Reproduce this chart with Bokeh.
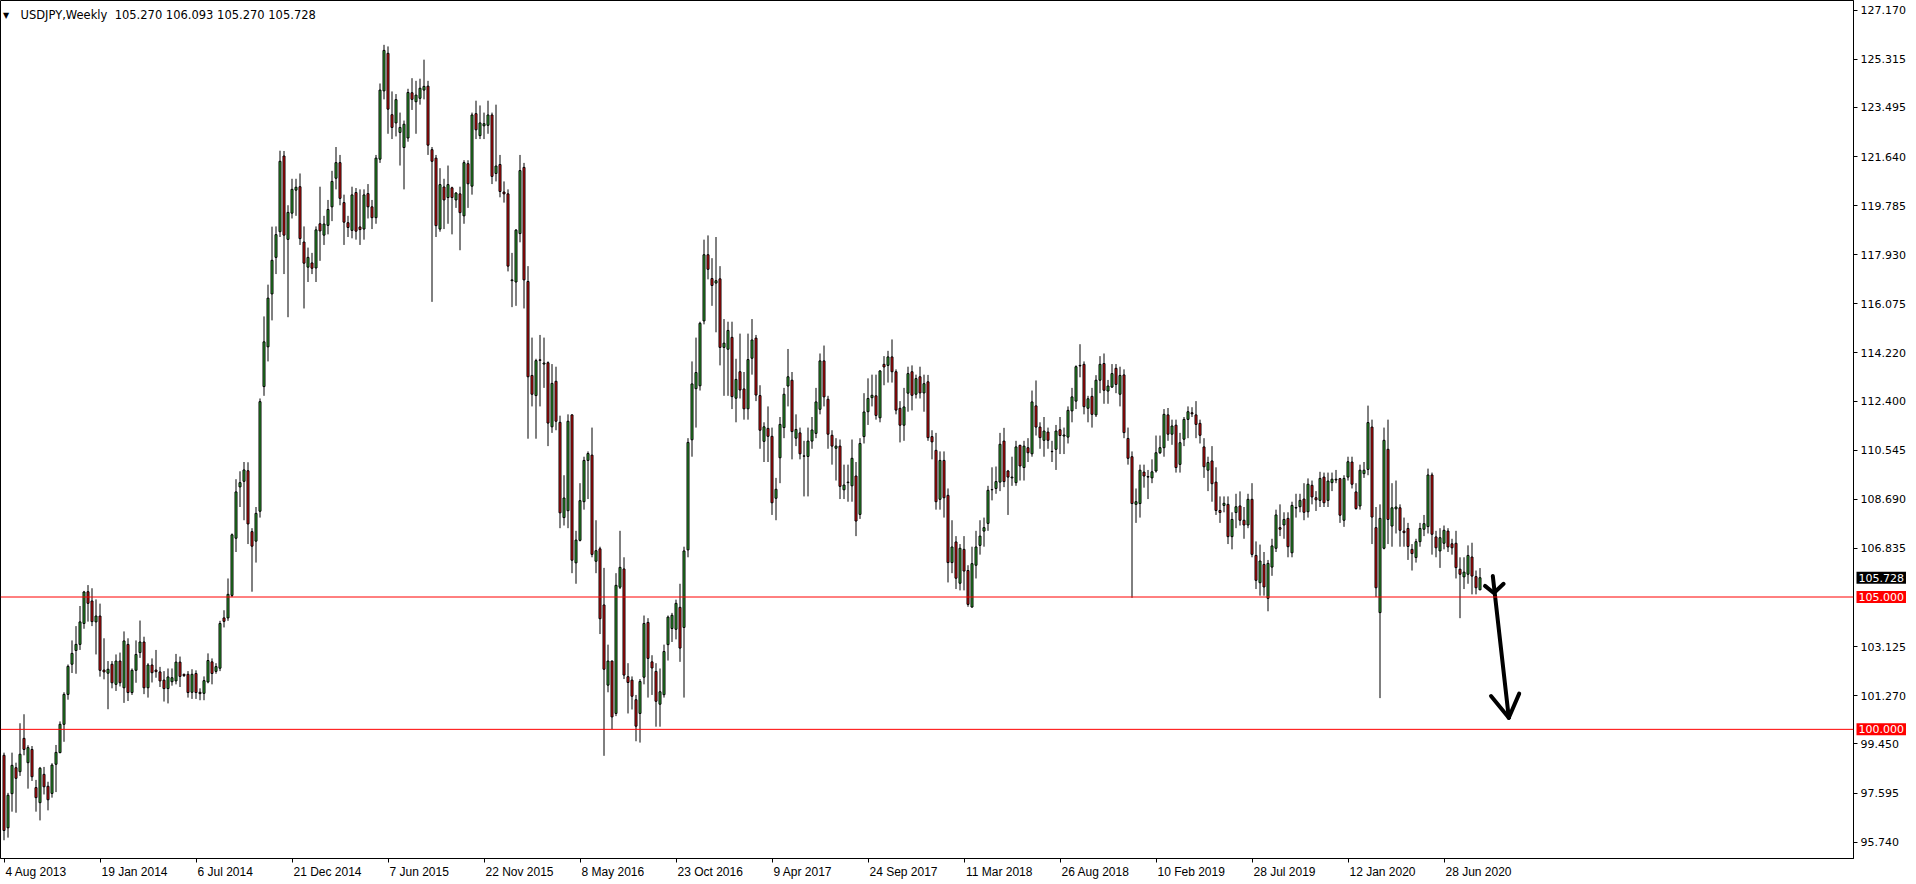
from bokeh.plotting import figure
from bokeh.models import (ColumnDataSource, FixedTicker, Span, Label, Range1d,
                          PrintfTickFormatter)
from bokeh.embed import file_html
from bokeh.resources import INLINE

# ---------------- data (USDJPY weekly) ----------------
symbol = "USDJPY,Weekly"
date_labels = ["4 Aug 2013", "19 Jan 2014", "6 Jul 2014", "21 Dec 2014", "7 Jun 2015",
               "22 Nov 2015", "8 May 2016", "23 Oct 2016", "9 Apr 2017", "24 Sep 2017",
               "11 Mar 2018", "26 Aug 2018", "10 Feb 2019", "28 Jul 2019", "12 Jan 2020",
               "28 Jun 2020"]
label_every = 24  # bars between date labels
price_ticks = [127.170, 125.315, 123.495, 121.640, 119.785, 117.930, 116.075, 114.220,
               112.400, 110.545, 108.690, 106.835, 103.125, 101.270, 99.450, 97.595, 95.740]
levels = [105.0, 100.0]

opens = [
    99.02, 96.28, 97.57, 98.55, 98.40, 99.66, 98.74, 99.24, 97.80, 97.23,
    98.30, 97.85, 97.58, 98.68, 99.12, 100.19, 101.32, 102.46, 102.98, 103.21,
    104.00, 105.20, 104.85, 104.06, 104.28, 102.24, 102.12, 102.46, 101.70, 102.58,
    101.57, 103.21, 101.39, 102.23, 102.90, 103.30, 101.57, 102.43, 102.24, 102.17,
    101.86, 101.54, 101.80, 101.83, 102.54, 102.08, 102.08, 101.40, 102.11, 101.40,
    101.36, 101.79, 102.55, 102.19, 102.31, 104.21, 104.21, 105.06, 107.22, 109.16,
    109.37, 109.77, 107.47, 107.11, 108.24, 112.95, 114.45, 116.45, 117.83, 118.80,
    121.66, 118.51, 119.50, 120.37, 120.50, 118.41, 117.46, 117.62, 117.43, 119.10,
    118.67, 119.04, 119.74, 120.82, 121.41, 119.90, 119.14, 118.85, 120.28, 118.98,
    118.90, 120.24, 119.74, 119.33, 121.54, 124.12, 125.54, 123.22, 122.91, 122.55,
    121.98, 122.34, 124.05, 123.71, 123.84, 124.15, 124.30, 121.90, 121.58, 118.90,
    120.49, 120.09, 120.46, 120.00, 120.23, 119.40, 121.37, 120.52, 123.26, 122.43,
    122.80, 122.82, 123.21, 121.00, 121.34, 120.30, 120.23, 116.95, 116.90, 118.73,
    121.23, 116.92, 113.37, 112.61, 113.96, 113.80, 113.85, 111.43, 113.15, 111.60,
    108.00, 108.26, 111.88, 106.29, 107.14, 108.60, 110.16, 110.36, 106.35, 106.82,
    104.70, 101.67, 102.58, 100.60, 105.37, 106.06, 101.99, 101.86, 101.12, 100.60,
    101.97, 104.04, 102.55, 102.19, 100.95, 101.31, 103.20, 103.81, 103.78, 104.61,
    103.85, 106.78, 110.94, 112.87, 112.98, 115.43, 117.93, 117.03, 116.86, 117.02,
    114.43, 114.36, 114.81, 112.51, 113.51, 112.86, 112.11, 114.02, 114.78, 112.61,
    110.88, 111.37, 111.07, 108.73, 110.26, 111.40, 112.97, 113.19, 111.00, 111.20,
    110.33, 110.31, 110.89, 111.18, 112.09, 113.92, 112.47, 111.11, 110.62, 110.70,
    109.05, 109.32, 109.20, 109.57, 108.12, 111.06, 112.00, 112.53, 112.60, 111.77,
    113.79, 113.75, 114.07, 113.51, 112.13, 111.49, 112.70, 113.51, 112.66, 113.32,
    112.71, 113.13, 111.06, 110.54, 108.69, 110.16, 108.84, 106.30, 107.08, 105.52,
    106.80, 106.00, 104.62, 106.20, 106.95, 107.49, 107.78, 109.05, 109.10, 109.34,
    110.89, 109.76, 109.50, 109.32, 110.73, 109.89, 110.64, 110.41, 112.22, 111.42,
    110.92, 111.23, 110.50, 110.58, 111.32, 111.08, 111.04, 112.03, 112.40, 113.75,
    113.79, 112.13, 112.58, 111.88, 113.19, 113.82, 112.78, 112.93, 113.64, 112.66,
    113.39, 110.99, 110.30, 108.50, 108.53, 109.72, 109.55, 109.50, 109.76, 110.45,
    110.64, 111.88, 111.15, 111.49, 110.01, 110.96, 111.71, 111.96, 111.88, 111.56,
    110.67, 109.79, 110.14, 109.34, 108.27, 108.46, 108.50, 107.28, 108.19, 108.44,
    107.90, 107.72, 108.69, 106.57, 105.54, 106.23, 104.95, 106.13, 106.84, 107.62,
    107.72, 107.97, 106.67, 108.36, 108.41, 108.70, 108.22, 109.22, 108.75, 108.65,
    109.53, 108.65, 109.32, 109.42, 109.47, 107.90, 109.53, 110.10, 108.97, 108.44,
    109.66, 109.82, 111.42, 107.62, 104.41, 106.84, 110.58, 107.68, 108.33, 108.37,
    107.49, 107.59, 106.80, 106.49, 107.09, 107.56, 107.66, 109.61, 107.27, 106.74,
    107.03, 107.49, 107.01, 107.03, 106.05, 105.76, 105.86, 106.51, 105.77, 105.27,
]
highs = [
    99.12, 97.60, 99.12, 98.74, 100.23, 100.57, 99.40, 99.37, 98.09, 98.58,
    98.58, 98.02, 98.72, 99.41, 100.30, 101.40, 102.45, 103.36, 103.90, 104.66,
    105.23, 105.45, 105.33, 104.91, 104.75, 103.44, 102.58, 102.58, 102.83, 102.90,
    103.70, 103.44, 102.30, 103.36, 104.11, 103.50, 102.50, 102.68, 103.00, 102.36,
    102.20, 102.30, 102.30, 102.85, 102.75, 102.10, 102.20, 102.27, 102.23, 101.55,
    102.00, 102.87, 102.68, 102.50, 104.10, 104.50, 105.70, 107.40, 109.45, 109.75,
    110.10, 110.09, 107.60, 108.40, 112.50, 115.60, 116.80, 118.99, 119.00, 121.86,
    121.85, 119.80, 120.80, 120.80, 121.00, 119.00, 118.20, 118.00, 119.00, 120.50,
    119.40, 120.00, 121.10, 122.00, 121.70, 120.20, 119.40, 120.50, 120.45, 120.40,
    120.40, 120.60, 120.00, 121.70, 124.40, 125.86, 125.80, 124.10, 124.00, 123.30,
    123.00, 124.20, 124.60, 124.50, 124.58, 125.30, 124.50, 122.00, 121.70, 121.20,
    120.80, 121.30, 120.50, 120.30, 120.50, 121.50, 121.50, 123.30, 123.75, 123.57,
    123.30, 123.75, 123.30, 123.60, 121.70, 120.70, 120.40, 118.00, 118.90, 121.70,
    121.40, 117.50, 114.80, 114.00, 114.90, 114.80, 113.90, 113.80, 113.70, 111.85,
    109.60, 111.90, 111.90, 107.50, 109.30, 110.30, 110.50, 111.40, 107.90, 106.90,
    106.10, 103.20, 102.60, 105.90, 107.50, 106.50, 102.50, 102.00, 101.30, 101.90,
    104.30, 104.20, 102.80, 102.50, 102.30, 103.20, 104.30, 104.40, 104.90, 105.50,
    106.90, 111.00, 113.90, 114.80, 115.40, 118.50, 118.66, 117.80, 118.60, 117.50,
    115.50, 115.40, 115.40, 114.00, 114.95, 113.50, 114.95, 115.50, 114.90, 113.00,
    111.60, 112.20, 111.40, 109.50, 111.80, 112.90, 114.37, 113.50, 111.90, 111.40,
    110.90, 111.40, 111.80, 112.90, 114.20, 114.50, 112.60, 111.30, 111.00, 110.95,
    110.00, 110.00, 110.95, 110.10, 111.00, 112.70, 113.26, 113.40, 113.40, 113.57,
    114.10, 114.30, 114.73, 113.60, 112.40, 112.90, 113.70, 113.75, 113.40, 113.70,
    113.40, 113.39, 111.30, 111.20, 110.50, 110.50, 109.10, 107.90, 107.30, 107.00,
    107.30, 106.20, 106.90, 107.50, 107.90, 108.00, 109.20, 109.90, 109.93, 111.20,
    111.39, 109.80, 110.30, 110.90, 110.75, 110.90, 111.00, 112.80, 113.18, 111.60,
    111.80, 111.40, 110.90, 111.50, 111.80, 111.40, 112.20, 112.90, 113.75, 114.55,
    113.90, 112.60, 112.90, 113.38, 114.10, 114.20, 113.20, 113.80, 113.80, 113.70,
    113.60, 111.40, 110.50, 109.10, 110.00, 110.00, 109.80, 110.20, 111.10, 111.10,
    112.10, 112.14, 111.70, 111.70, 111.20, 111.80, 112.20, 112.17, 112.40, 111.70,
    111.00, 110.30, 110.70, 109.90, 108.80, 108.80, 108.80, 108.20, 108.90, 108.99,
    108.40, 108.90, 109.30, 107.10, 106.98, 106.70, 106.40, 107.20, 108.30, 108.50,
    108.20, 108.20, 108.60, 108.90, 108.90, 109.30, 109.48, 109.40, 109.00, 109.73,
    109.70, 109.70, 109.70, 109.80, 109.50, 109.60, 110.30, 110.30, 109.30, 110.00,
    110.10, 112.23, 111.70, 108.40, 108.50, 111.40, 111.70, 109.30, 109.40, 108.50,
    108.00, 107.80, 107.00, 107.20, 107.80, 108.10, 109.85, 109.70, 107.50, 107.60,
    107.70, 107.60, 107.20, 107.50, 106.50, 106.50, 106.95, 107.05, 106.00, 106.093,
]
lows = [
    95.81, 95.91, 96.89, 96.85, 98.24, 99.02, 97.76, 98.05, 96.89, 96.56,
    97.54, 96.94, 97.42, 97.63, 99.10, 99.53, 101.12, 102.13, 102.10, 103.00,
    103.80, 104.07, 103.90, 102.83, 101.99, 101.89, 100.76, 101.55, 101.45, 101.62,
    101.00, 101.07, 101.30, 101.76, 102.70, 101.33, 101.20, 101.77, 101.95, 101.60,
    101.05, 100.98, 101.65, 101.70, 101.60, 101.98, 101.20, 101.15, 101.15, 101.10,
    101.10, 101.74, 101.70, 102.10, 102.20, 103.85, 104.10, 105.00, 106.70, 108.40,
    107.90, 107.00, 105.20, 106.30, 108.00, 112.60, 113.90, 115.45, 117.20, 118.60,
    117.20, 115.57, 119.30, 119.40, 118.30, 115.90, 116.90, 117.20, 116.90, 117.70,
    118.30, 118.70, 119.20, 120.40, 119.80, 118.30, 118.60, 118.55, 118.50, 118.30,
    118.50, 119.30, 118.90, 119.10, 121.40, 123.80, 122.50, 122.30, 122.40, 121.30,
    120.40, 122.20, 123.40, 122.50, 123.60, 123.80, 121.70, 116.15, 118.60, 118.80,
    118.90, 119.10, 118.70, 119.70, 118.10, 119.10, 119.70, 120.20, 122.30, 122.30,
    122.30, 122.50, 120.60, 120.70, 120.10, 119.90, 117.30, 115.95, 116.00, 118.40,
    115.90, 110.98, 112.20, 110.98, 112.20, 112.90, 110.70, 111.20, 111.30, 107.60,
    107.70, 107.60, 105.90, 105.50, 107.10, 108.30, 108.70, 106.50, 105.90, 103.60,
    99.00, 101.40, 100.00, 100.50, 105.30, 101.90, 100.60, 100.75, 99.55, 99.50,
    101.70, 101.20, 101.30, 100.10, 100.10, 101.20, 102.60, 103.30, 103.40, 102.55,
    101.20, 106.50, 110.30, 111.40, 112.80, 115.30, 117.00, 116.00, 115.00, 113.75,
    112.60, 112.60, 112.10, 111.60, 112.50, 111.70, 111.70, 113.40, 112.40, 110.60,
    110.10, 110.10, 108.10, 107.90, 109.30, 111.00, 112.20, 110.20, 110.70, 110.20,
    108.80, 108.80, 110.60, 111.00, 111.90, 112.20, 110.60, 110.00, 109.40, 108.70,
    108.70, 108.60, 108.60, 107.30, 107.95, 110.80, 111.50, 112.20, 111.70, 111.60,
    113.00, 113.10, 113.10, 111.90, 110.84, 110.90, 112.00, 112.05, 112.50, 112.50,
    112.00, 110.90, 110.20, 108.30, 108.30, 108.00, 105.55, 105.90, 105.30, 105.25,
    105.25, 104.63, 104.60, 105.70, 106.60, 106.90, 107.50, 108.65, 108.90, 109.00,
    109.15, 108.10, 109.20, 109.20, 109.40, 109.40, 110.10, 110.30, 111.10, 110.60,
    110.30, 110.60, 110.10, 109.80, 110.40, 110.40, 110.80, 111.60, 112.10, 113.30,
    111.90, 111.60, 111.40, 111.80, 112.70, 112.30, 112.30, 112.90, 112.70, 112.20,
    111.00, 110.00, 104.97, 107.80, 108.00, 109.13, 108.70, 109.30, 109.70, 110.40,
    110.30, 110.90, 110.75, 109.70, 109.70, 110.70, 111.00, 111.80, 111.00, 110.80,
    109.50, 109.00, 108.60, 108.10, 107.80, 108.20, 107.00, 106.80, 107.60, 107.70,
    107.20, 107.60, 106.50, 105.30, 105.05, 105.05, 104.46, 105.80, 106.70, 107.30,
    107.20, 106.50, 106.50, 108.00, 108.20, 107.90, 108.00, 108.50, 108.25, 108.40,
    108.40, 108.40, 109.00, 109.30, 107.80, 107.65, 109.40, 109.10, 108.30, 108.30,
    109.50, 109.60, 107.00, 105.00, 101.18, 106.80, 107.00, 106.90, 107.40, 106.90,
    106.90, 106.40, 106.00, 106.30, 106.90, 107.30, 107.40, 106.60, 106.50, 106.10,
    106.80, 106.70, 106.60, 105.70, 104.20, 105.30, 105.50, 105.10, 105.10, 105.27,
]
closes = [
    96.18, 97.51, 98.64, 98.15, 99.06, 99.24, 99.31, 98.21, 97.42, 98.53,
    97.83, 97.34, 98.65, 99.13, 100.19, 101.32, 102.38, 102.87, 103.21, 104.06,
    105.19, 104.76, 104.07, 104.28, 102.23, 102.17, 102.27, 101.76, 102.58, 101.76,
    103.34, 101.39, 102.23, 102.83, 103.30, 101.57, 102.43, 102.14, 102.18, 101.83,
    101.54, 101.98, 101.95, 102.54, 102.00, 102.03, 101.39, 102.08, 101.39, 101.35,
    101.84, 102.60, 102.11, 102.37, 104.00, 104.08, 105.10, 107.35, 108.97, 109.32,
    109.80, 107.76, 106.92, 108.16, 112.38, 114.64, 116.29, 117.72, 118.69, 121.46,
    118.67, 119.53, 120.40, 120.48, 118.54, 117.61, 117.83, 117.42, 118.87, 118.83,
    119.09, 119.64, 120.70, 121.41, 120.06, 119.16, 118.96, 120.19, 118.82, 118.88,
    120.19, 119.74, 119.33, 121.58, 124.15, 125.65, 123.43, 122.74, 123.79, 122.74,
    122.86, 124.06, 123.80, 123.96, 124.22, 124.29, 122.07, 121.46, 119.03, 120.58,
    120.00, 120.58, 120.09, 120.26, 119.52, 121.41, 120.61, 123.21, 122.65, 122.91,
    122.88, 123.21, 120.89, 121.28, 120.32, 120.23, 117.50, 116.98, 118.86, 121.11,
    116.98, 113.32, 112.66, 113.93, 113.94, 113.84, 111.57, 113.07, 111.64, 108.18,
    108.74, 111.64, 106.39, 107.15, 108.64, 110.16, 110.42, 106.61, 106.75, 104.18,
    102.27, 102.58, 100.47, 105.44, 106.12, 102.05, 101.77, 101.25, 100.12, 101.81,
    104.00, 102.68, 102.32, 101.06, 101.42, 102.94, 104.24, 104.31, 104.76, 103.07,
    106.74, 110.84, 113.05, 113.48, 115.34, 117.93, 117.38, 116.77, 116.95, 114.43,
    114.59, 115.07, 112.57, 113.22, 112.82, 112.11, 113.97, 114.71, 112.63, 111.30,
    111.43, 111.07, 108.56, 109.07, 111.52, 112.66, 113.32, 111.25, 111.33, 110.41,
    110.32, 110.89, 111.31, 112.37, 113.92, 112.56, 111.15, 110.70, 110.70, 109.18,
    109.23, 109.34, 110.24, 107.87, 110.80, 111.99, 112.50, 112.62, 111.86, 113.54,
    113.69, 114.07, 113.51, 112.06, 111.49, 112.18, 113.44, 112.62, 113.25, 112.71,
    113.06, 111.02, 110.86, 108.60, 110.16, 108.75, 106.30, 106.89, 105.71, 106.84,
    105.98, 104.72, 106.26, 106.89, 107.30, 107.62, 109.03, 109.06, 109.36, 110.77,
    109.36, 109.53, 109.53, 110.67, 109.95, 110.70, 110.45, 112.37, 111.42, 111.02,
    111.27, 110.92, 110.49, 111.27, 111.10, 111.12, 112.05, 112.56, 113.70, 113.73,
    112.19, 112.49, 111.90, 113.19, 113.79, 112.81, 112.97, 113.44, 113.03, 113.37,
    111.21, 110.24, 108.53, 108.60, 109.79, 109.57, 109.53, 109.73, 110.45, 110.64,
    111.90, 111.15, 111.46, 109.89, 110.83, 111.71, 112.00, 111.92, 111.52, 111.11,
    109.92, 110.08, 109.28, 108.27, 108.19, 108.54, 107.28, 107.93, 108.41, 107.90,
    107.72, 108.69, 106.61, 105.63, 106.36, 105.38, 106.27, 106.93, 108.10, 107.56,
    107.93, 106.90, 108.46, 108.38, 108.65, 108.20, 109.26, 108.78, 108.67, 109.48,
    108.56, 109.38, 109.45, 109.45, 108.09, 109.48, 110.11, 109.26, 108.34, 109.79,
    109.79, 111.59, 108.02, 105.35, 107.97, 110.92, 107.93, 108.37, 108.40, 107.52,
    107.43, 106.91, 106.64, 107.09, 107.59, 107.77, 109.61, 107.37, 106.86, 107.24,
    107.52, 106.89, 106.86, 106.11, 105.86, 105.94, 106.57, 105.79, 105.35, 105.728,
]

# hand-drawn arrow (bar index, price)
arrow_strokes = [
    ([372.2, 376.2], [105.79, 100.44]),
    ([370.25, 372.3], [105.42, 105.17]),
    ([374.9, 372.6], [105.50, 105.17]),
    ([371.75, 376.2], [101.26, 100.44]),
    ([378.8, 376.2], [101.35, 100.44]),
]

# ---------------- styling / layout ----------------
UP = "#32b432"
DN = "#ee1111"
PX_PER_BAR = 4.0
PX_PER_YEN = 26.47
FRAME_W, FRAME_H = 1853, 858
RIGHT_PANEL, BOTTOM_PANEL = 61, 22
HIDDEN_LEFT = 300   # side panel holding the axis price boxes, shifted off-page
X0 = -0.875
X1 = X0 + FRAME_W / PX_PER_BAR
Y_TOP = 105 + 596.5 / PX_PER_YEN
Y_BOT = Y_TOP - FRAME_H / PX_PER_YEN

n = len(closes)
bars = list(range(n))
src = ColumnDataSource(dict(
    x=bars, o=opens, h=highs, l=lows, c=closes,
    top=[max(a, b) for a, b in zip(opens, closes)],
    bot=[min(a, b) for a, b in zip(opens, closes)],
    col=[UP if c >= o else DN for o, c in zip(opens, closes)],
))

p = figure(frame_width=FRAME_W, frame_height=FRAME_H, output_backend="svg",
           toolbar_location=None, y_axis_location="right",
           x_range=Range1d(X0, X1), y_range=Range1d(Y_BOT, Y_TOP),
           min_border_left=HIDDEN_LEFT, min_border_top=0,
           min_border_bottom=BOTTOM_PANEL, min_border_right=RIGHT_PANEL)
p.styles = {"margin-left": f"-{HIDDEN_LEFT}px"}
p.background_fill_color = "white"
p.border_fill_color = "white"
p.outline_line_color = "black"
p.outline_line_width = 1
p.xgrid.visible = False
p.ygrid.visible = False

for lv in levels:
    p.add_layout(Span(location=lv, dimension="width", line_color="#ff0000", line_width=1))

p.segment(x0="x", y0="l", x1="x", y1="h", source=src, line_color="black", line_width=1)
p.vbar(x="x", width=0.5, top="top", bottom="bot", source=src,
       fill_color="col", line_color="black", line_width=1)

p.multi_line(xs=[s[0] for s in arrow_strokes], ys=[s[1] for s in arrow_strokes],
             line_color="black", line_width=4, line_cap="round", line_join="round")

# ---- x axis: date labels starting at their tick ----
cw = {"0": 556, "1": 556, "2": 556, "3": 556, "4": 556, "5": 556, "6": 556, "7": 556,
      "8": 556, "9": 556, " ": 278, "A": 667, "u": 556, "g": 556, "J": 500, "a": 556,
      "n": 556, "l": 222, "D": 722, "e": 556, "c": 500, "N": 722, "o": 556, "v": 500,
      "M": 833, "y": 500, "O": 778, "t": 278, "p": 556, "r": 333, "S": 667, "F": 611,
      "b": 556}
tick_bars = [k * label_every for k in range(len(date_labels))]
centers, overrides = [], {}
for tb, lab in zip(tick_bars, date_labels):
    w = sum(cw.get(ch, 556) for ch in lab) * 12 / 1000.0
    ctr = tb + (w / 2 + 1.5) / PX_PER_BAR
    centers.append(ctr)
    overrides[ctr] = lab
p.xaxis.ticker = FixedTicker(ticks=centers, minor_ticks=tick_bars)
p.xaxis.major_label_overrides = overrides
p.xaxis.major_tick_line_color = None
p.xaxis.major_tick_out = 4
p.xaxis.major_tick_in = 0
p.xaxis.minor_tick_line_color = "black"
p.xaxis.minor_tick_out = 4
p.xaxis.minor_tick_in = 0
p.xaxis.axis_line_color = "black"
p.xaxis.major_label_standoff = 2
p.xaxis.major_label_text_font = "Liberation Sans"
p.xaxis.major_label_text_font_size = "12px"
p.xaxis.major_label_text_color = "black"

# ---- y axis (right) ----
p.yaxis.ticker = FixedTicker(ticks=price_ticks)
p.yaxis.formatter = PrintfTickFormatter(format="%.3f")
p.yaxis.major_tick_out = 4
p.yaxis.major_tick_in = 0
p.yaxis.minor_tick_line_color = None
p.yaxis.axis_line_color = "black"
p.yaxis.major_tick_line_color = "black"
p.yaxis.major_label_standoff = 3
p.yaxis.major_label_text_font = "DejaVu Sans"
p.yaxis.major_label_text_font_size = "11px"
p.yaxis.major_label_text_color = "black"

# ---- price boxes on the axis (side-panel labels are not clipped to the frame) ----
boxes = [(closes[-1], "black")] + [(lv, "#ff0000") for lv in levels]
for val, bg in boxes:
    p.add_layout(Label(x=X1, y=val, x_units="data", y_units="data", x_offset=3,
                       text=f"{val:.3f}", text_color="white",
                       text_font="DejaVu Sans", text_font_size="11px",
                       text_align="left", text_baseline="middle",
                       background_fill_color=bg, padding=2), "left")

# ---- header ----
p.add_layout(Label(x=X0 + 2.5 / PX_PER_BAR, y=Y_TOP - 14.5 / PX_PER_YEN, text="\u25bc",
                   text_font="DejaVu Sans", text_font_size="8px",
                   text_color="black", text_align="left", text_baseline="middle"))
hdr = (f"{symbol}\u00a0\u00a0{opens[-1]:.3f} {highs[-1]:.3f} "
       f"{lows[-1]:.3f} {closes[-1]:.3f}")
p.add_layout(Label(x=X0 + 20 / PX_PER_BAR, y=Y_TOP - 14.5 / PX_PER_YEN, text=hdr,
                   text_font="DejaVu Sans", text_font_size="11.5px",
                   text_color="black", text_align="left", text_baseline="middle"))

open("out.html", "w").write(file_html(p, INLINE))
